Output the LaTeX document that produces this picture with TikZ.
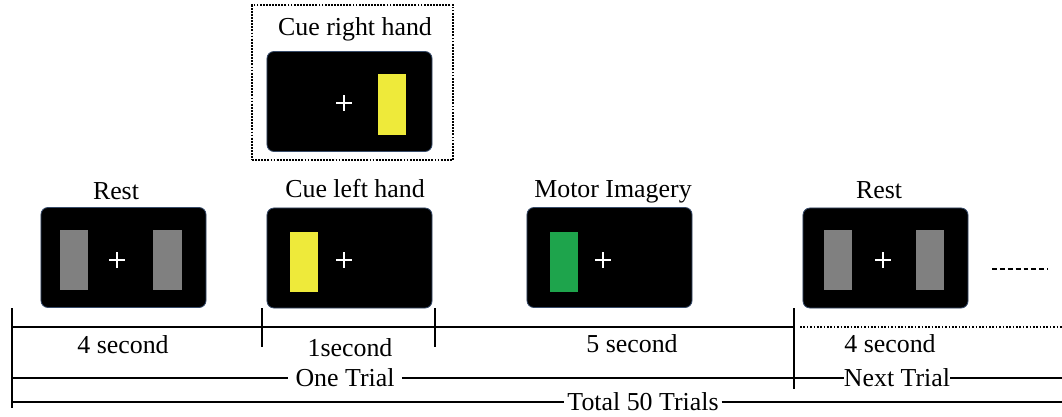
\documentclass[tikz,border=0pt]{standalone}
\usepackage{fontspec}
\setmainfont{Liberation Serif}
\usepackage{xcolor}
\usepackage{tikz}
\usetikzlibrary{calc}
\usetikzlibrary{positioning}

\definecolor{screenedge}{RGB}{55,75,105}
\definecolor{cueyellow}{RGB}{238,234,58}
\definecolor{restgray}{RGB}{128,128,128}
\definecolor{migreen}{RGB}{30,164,76}

\begin{document}
\begin{tikzpicture}[x=0.025cm, y=-0.025cm,
    screen/.style={fill=black, draw=screenedge, line width=0.6pt, rounded corners=5pt,
      minimum width=4.125cm, minimum height=2.5cm, inner sep=0pt},
    bar/.style={minimum width=0.7cm, minimum height=1.5cm, inner sep=0pt},
    txt/.style={font=\fontsize{18.4}{22}\selectfont, inner sep=2pt},
    timeline/.style={line width=1.8pt},
    thinline/.style={line width=1pt},
    fixation/.pic={\draw[white, line width=1.1pt] (-8,0) -- (8,0) (0,-8) -- (0,8);}]
    \useasboundingbox (0,0) rectangle (1062,416);

    % optional cue, shown above the left-hand cue
    \node[draw, line width=1.4pt, dash pattern=on 1.3pt off 0.9pt, minimum width=5.025cm,
      minimum height=3.875cm] (frame) at (352.5,82.5) {};
    \node[txt] (lcueR) at (355,29) {Cue right hand};
    \node[screen] (cueR) at (349.5,101.5) {};
    \node[bar, fill=cueyellow] (yR) at (392,104.5) {};
    \pic at (344,103) {fixation};

    % screens of one trial
    \node[screen] (rest1) at (123.5,257.5) {};
    \node[screen] (cueL) at (349.5,258) {};
    \node[screen] (mi) at (609.5,257.5) {};
    \node[screen] (rest2) at (885.5,258) {};

    \node[bar, fill=restgray] (g1) at (74,259.5) {};
    \node[bar, fill=restgray] (g2) at (167.5,259.5) {};
    \node[bar, fill=cueyellow] (yL) at (304,261.5) {};
    \node[bar, fill=migreen] (gr) at (563.5,261.5) {};
    \node[bar, fill=restgray] (g3) at (838,260) {};
    \node[bar, fill=restgray] (g4) at (929.5,260) {};

    \pic at (117,260) {fixation};
    \pic at (344,260) {fixation};
    \pic at (603,260) {fixation};
    \pic at (883,260) {fixation};

    \node[txt] (lrest1) at (116,191) {Rest};
    \node[txt] (lcueL) at (355,189) {Cue left hand};
    \node[txt] (lmi) at (613,191.5) {Motor Imagery};
    \node[txt] (lrest2) at (879,190) {Rest};

    \coordinate (more) at (992,269);
    \draw[line width=1.4pt, dash pattern=on 3.5pt off 2.1pt] (more) -- ++(56,0);

    % time axis
    \coordinate (t0) at (12,327);
    \coordinate (t1) at (262,327);
    \coordinate (t2) at (435,327);
    \coordinate (t3) at (794,327);
    \coordinate (tend) at (1062,327);
    \draw[timeline] (t0) -- (t3);
    \draw[line width=1.3pt, dash pattern=on 1.2pt off 1.2pt] ($(t3)+(6,0)$) -- (tend);
    \draw[timeline] ($(t0)+(0,-19)$) -- ($(t0)+(0,81)$);
    \draw[timeline] ($(t1)+(0,-19)$) -- ($(t1)+(0,20)$);
    \draw[timeline] ($(t2)+(0,-19)$) -- ($(t2)+(0,20)$);
    \draw[timeline] ($(t3)+(0,-19)$) -- ($(t3)+(0,62)$);

    \node[txt] (d1) at (123,345) {4 second};
    \node[txt] (d2) at (350,348) {1second};
    \node[txt] (d3) at (632,344) {5 second};
    \node[txt] (d4) at (890,344) {4 second};

    \node[txt, inner xsep=5pt] (one) at (345,378) {One Trial};
    \node[txt, inner xsep=0pt] (next) at (897,378) {Next Trial};
    \node[txt] (total) at (643,402) {Total 50 Trials};
    \draw[thinline] (t0 |- one) -- (one.west);
    \draw[thinline] (one.east) -- (t3 |- one);
    \draw[thinline] (t3 |- next) -- (next.west);
    \draw[thinline] (next.east) -- (tend |- next);
    \draw[thinline] (t0 |- total) -- (total.west);
    \draw[thinline] (total.east) -- (tend |- total);
  \end{tikzpicture}
\end{document}
